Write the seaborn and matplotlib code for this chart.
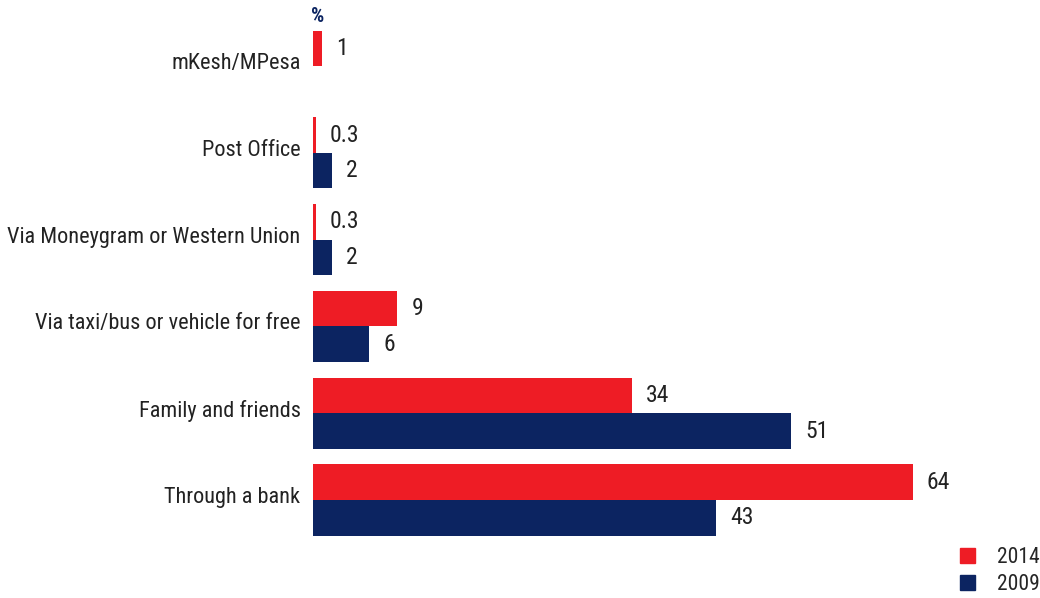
import numpy as np
import pandas as pd
import matplotlib
matplotlib.use("Agg")
import matplotlib.pyplot as plt
import matplotlib.transforms as mtransforms
import seaborn as sns

categories = ["mKesh/MPesa", "Post Office", "Via Moneygram or Western Union",
              "Via taxi/bus or vehicle for free", "Family and friends", "Through a bank"]
values_2014 = [1, 0.3, 0.3, 9, 34, 64]
values_2009 = [np.nan, 2, 2, 6, 51, 43]
years = ["2014", "2009"]

RED = "#ee1c25"
NAVY = "#0c2461"

sns.set_theme(style="white")
plt.rcParams["font.family"] = ["Roboto Condensed", "Liberation Sans Narrow",
                               "Liberation Sans", "DejaVu Sans"]

df = pd.DataFrame({
    "category": categories * 2,
    "value": values_2014 + values_2009,
    "year": [years[0]] * len(categories) + [years[1]] * len(categories),
}).dropna()

fig = plt.figure(figsize=(10.4, 5.98), dpi=100)
ax = fig.add_axes([0.301, 0.0913, 0.676, 0.8707])

sns.barplot(data=df, y="category", x="value", hue="year", hue_order=years,
            order=categories, palette=[RED, NAVY], orient="h", width=0.82,
            saturation=1, linewidth=0, ax=ax, legend=False)

ax.set_xlim(0, 75)
ax.set_ylim(5.5, -0.5)
ax.set_xlabel("")
ax.set_ylabel("")
ax.set_xticks([])
for s in ax.spines.values():
    s.set_visible(False)
ax.tick_params(axis="y", length=0, pad=9, labelsize=16, labelcolor="#222222")

# nudge the category labels slightly upward
shift = mtransforms.ScaledTranslation(0, 5 / 100, fig.dpi_scale_trans)
for lab in ax.get_yticklabels():
    lab.set_transform(lab.get_transform() + shift)

# value labels at the end of each bar
for bar in ax.patches:
    w = bar.get_width()
    if not np.isfinite(w):
        continue
    ax.annotate(f"{round(w, 1):g}", (w, bar.get_y() + bar.get_height() / 2),
                xytext=(10, 0), textcoords="offset points", ha="left",
                va="center", fontsize=17, color="#222222")

ax.annotate("%", (0.5, -0.41), xytext=(0, 3), textcoords="offset points",
            ha="center", va="bottom", fontsize=15, fontweight="bold", color=NAVY)

handles = [plt.Rectangle((0, 0), 1, 1, color=c) for c in (RED, NAVY)]
fig.legend(handles, years, loc="lower right", bbox_to_anchor=(1.018, -0.028),
           frameon=False, fontsize=15.5, handlelength=0.7, handleheight=0.7,
           handletextpad=1.0, labelspacing=0.3)

fig.savefig("out.png", dpi=100)
